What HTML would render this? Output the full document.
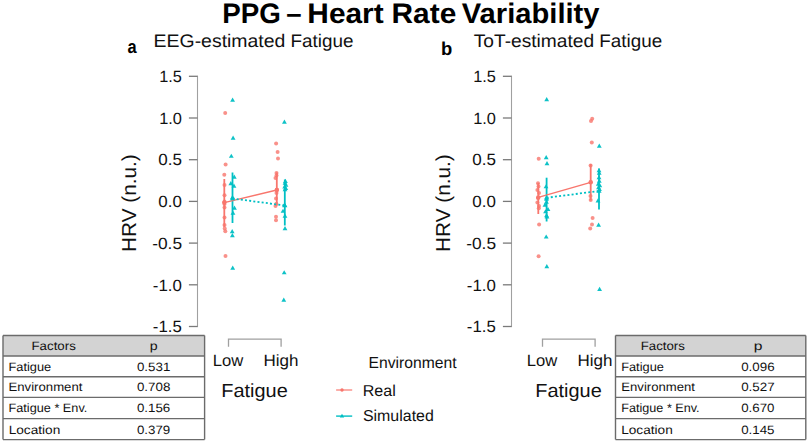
<!DOCTYPE html>
<html><head><meta charset="utf-8"><style>
html,body{margin:0;padding:0;background:#fff;}
body{width:809px;height:442px;overflow:hidden;}
svg{display:block;font-family:"Liberation Sans",sans-serif;text-rendering:geometricPrecision;}
text{fill:#111;}
.title{font-size:28.2px;font-weight:bold;fill:#000;}
.lab{font-size:18.6px;font-weight:bold;fill:#000;}
.sub{font-size:18.2px;}
.tk{font-size:16.2px;}
.xl{font-size:16.4px;}
.xt{font-size:19px;}
.yt{font-size:20.2px;}
.lg{font-size:15.8px;}
.tb{font-size:12.1px;}
</style></head><body>
<svg width="809" height="442" viewBox="0 0 809 442">
<path d="M197.5 75.7V327.1" stroke="#a0a0a0" stroke-width="1.1" fill="none"/>
<path d="M188.9 76.3H197.5" stroke="#7a7a7a" stroke-width="1.3" fill="none"/>
<path d="M188.9 118.0H197.5" stroke="#7a7a7a" stroke-width="1.3" fill="none"/>
<path d="M188.9 159.7H197.5" stroke="#7a7a7a" stroke-width="1.3" fill="none"/>
<path d="M188.9 201.4H197.5" stroke="#7a7a7a" stroke-width="1.3" fill="none"/>
<path d="M188.9 243.1H197.5" stroke="#7a7a7a" stroke-width="1.3" fill="none"/>
<path d="M188.9 284.8H197.5" stroke="#7a7a7a" stroke-width="1.3" fill="none"/>
<path d="M188.9 326.5H197.5" stroke="#7a7a7a" stroke-width="1.3" fill="none"/>
<path d="M228.5 346.7V339.2H281.1V346.7" stroke="#a0a0a0" stroke-width="1.3" fill="none"/>
<path d="M511.5 75.7V327.1" stroke="#a0a0a0" stroke-width="1.1" fill="none"/>
<path d="M502.9 76.3H511.5" stroke="#7a7a7a" stroke-width="1.3" fill="none"/>
<path d="M502.9 118.0H511.5" stroke="#7a7a7a" stroke-width="1.3" fill="none"/>
<path d="M502.9 159.7H511.5" stroke="#7a7a7a" stroke-width="1.3" fill="none"/>
<path d="M502.9 201.4H511.5" stroke="#7a7a7a" stroke-width="1.3" fill="none"/>
<path d="M502.9 243.1H511.5" stroke="#7a7a7a" stroke-width="1.3" fill="none"/>
<path d="M502.9 284.8H511.5" stroke="#7a7a7a" stroke-width="1.3" fill="none"/>
<path d="M502.9 326.5H511.5" stroke="#7a7a7a" stroke-width="1.3" fill="none"/>
<path d="M542.5 346.7V339.2H595.1V346.7" stroke="#a0a0a0" stroke-width="1.3" fill="none"/>
<circle cx="225.2" cy="113.1" r="2.0" fill="#F8766D" fill-opacity="0.8"/>
<circle cx="225.6" cy="164.5" r="2.0" fill="#F8766D" fill-opacity="0.8"/>
<circle cx="224.3" cy="174.8" r="2.0" fill="#F8766D" fill-opacity="0.8"/>
<circle cx="224.5" cy="185" r="2.0" fill="#F8766D" fill-opacity="0.8"/>
<circle cx="224.5" cy="195.3" r="2.0" fill="#F8766D" fill-opacity="0.8"/>
<circle cx="224.5" cy="201.6" r="2.0" fill="#F8766D" fill-opacity="0.8"/>
<circle cx="224.5" cy="204" r="2.0" fill="#F8766D" fill-opacity="0.8"/>
<circle cx="224.5" cy="207.5" r="2.0" fill="#F8766D" fill-opacity="0.8"/>
<circle cx="224.5" cy="217.4" r="2.0" fill="#F8766D" fill-opacity="0.8"/>
<circle cx="224.5" cy="225" r="2.0" fill="#F8766D" fill-opacity="0.8"/>
<circle cx="224.7" cy="228.6" r="2.0" fill="#F8766D" fill-opacity="0.8"/>
<circle cx="225.3" cy="231.3" r="2.0" fill="#F8766D" fill-opacity="0.8"/>
<circle cx="225.5" cy="256" r="2.0" fill="#F8766D" fill-opacity="0.8"/>
<circle cx="276.1" cy="143.5" r="2.0" fill="#F8766D" fill-opacity="0.8"/>
<circle cx="277.6" cy="152" r="2.0" fill="#F8766D" fill-opacity="0.8"/>
<circle cx="278" cy="158.6" r="2.0" fill="#F8766D" fill-opacity="0.8"/>
<circle cx="276.5" cy="173" r="2.0" fill="#F8766D" fill-opacity="0.8"/>
<circle cx="276.5" cy="175.5" r="2.0" fill="#F8766D" fill-opacity="0.8"/>
<circle cx="275.5" cy="178" r="2.0" fill="#F8766D" fill-opacity="0.8"/>
<circle cx="277" cy="189.8" r="2.0" fill="#F8766D" fill-opacity="0.8"/>
<circle cx="276.5" cy="193" r="2.0" fill="#F8766D" fill-opacity="0.8"/>
<circle cx="276" cy="198.5" r="2.0" fill="#F8766D" fill-opacity="0.8"/>
<circle cx="276.3" cy="203.7" r="2.0" fill="#F8766D" fill-opacity="0.8"/>
<circle cx="275.5" cy="206" r="2.0" fill="#F8766D" fill-opacity="0.8"/>
<circle cx="276" cy="216.8" r="2.0" fill="#F8766D" fill-opacity="0.8"/>
<circle cx="276" cy="220.3" r="2.0" fill="#F8766D" fill-opacity="0.8"/>
<path d="M232.60 97.51L235.00 101.66L230.20 101.66Z" fill="#00BFC4" fill-opacity="0.95"/>
<path d="M233.10 135.51L235.50 139.66L230.70 139.66Z" fill="#00BFC4" fill-opacity="0.95"/>
<path d="M231.30 153.71L233.70 157.86L228.90 157.86Z" fill="#00BFC4" fill-opacity="0.95"/>
<path d="M234.30 174.51L236.70 178.66L231.90 178.66Z" fill="#00BFC4" fill-opacity="0.95"/>
<path d="M230.80 181.01L233.20 185.16L228.40 185.16Z" fill="#00BFC4" fill-opacity="0.95"/>
<path d="M234.00 183.51L236.40 187.66L231.60 187.66Z" fill="#00BFC4" fill-opacity="0.95"/>
<path d="M232.50 194.91L234.90 199.06L230.10 199.06Z" fill="#00BFC4" fill-opacity="0.95"/>
<path d="M234.50 205.51L236.90 209.66L232.10 209.66Z" fill="#00BFC4" fill-opacity="0.95"/>
<path d="M233.00 210.51L235.40 214.66L230.60 214.66Z" fill="#00BFC4" fill-opacity="0.95"/>
<path d="M232.20 229.01L234.60 233.16L229.80 233.16Z" fill="#00BFC4" fill-opacity="0.95"/>
<path d="M232.40 233.01L234.80 237.16L230.00 237.16Z" fill="#00BFC4" fill-opacity="0.95"/>
<path d="M232.70 265.61L235.10 269.76L230.30 269.76Z" fill="#00BFC4" fill-opacity="0.95"/>
<path d="M284.40 119.51L286.80 123.66L282.00 123.66Z" fill="#00BFC4" fill-opacity="0.95"/>
<path d="M285.40 178.81L287.80 182.96L283.00 182.96Z" fill="#00BFC4" fill-opacity="0.95"/>
<path d="M285.00 180.71L287.40 184.86L282.60 184.86Z" fill="#00BFC4" fill-opacity="0.95"/>
<path d="M286.00 182.51L288.40 186.66L283.60 186.66Z" fill="#00BFC4" fill-opacity="0.95"/>
<path d="M284.70 184.31L287.10 188.46L282.30 188.46Z" fill="#00BFC4" fill-opacity="0.95"/>
<path d="M285.80 185.91L288.20 190.06L283.40 190.06Z" fill="#00BFC4" fill-opacity="0.95"/>
<path d="M285.00 187.11L287.40 191.26L282.60 191.26Z" fill="#00BFC4" fill-opacity="0.95"/>
<path d="M284.50 202.41L286.90 206.56L282.10 206.56Z" fill="#00BFC4" fill-opacity="0.95"/>
<path d="M283.00 208.71L285.40 212.86L280.60 212.86Z" fill="#00BFC4" fill-opacity="0.95"/>
<path d="M285.00 213.51L287.40 217.66L282.60 217.66Z" fill="#00BFC4" fill-opacity="0.95"/>
<path d="M285.00 226.01L287.40 230.16L282.60 230.16Z" fill="#00BFC4" fill-opacity="0.95"/>
<path d="M284.20 270.21L286.60 274.36L281.80 274.36Z" fill="#00BFC4" fill-opacity="0.95"/>
<path d="M283.80 297.51L286.20 301.66L281.40 301.66Z" fill="#00BFC4" fill-opacity="0.95"/>
<path d="M224.3 179V227" stroke="#F8766D" stroke-width="1.8" fill="none"/>
<path d="M232.5 172.5V223" stroke="#00BFC4" stroke-width="1.8" fill="none"/>
<path d="M276.8 172.5V205.5" stroke="#F8766D" stroke-width="1.8" fill="none"/>
<path d="M284.8 179.5V225.5" stroke="#00BFC4" stroke-width="1.8" fill="none"/>
<path d="M224.3 202.6L276.8 190" stroke="#F8766D" stroke-width="1.4" fill="none"/>
<path d="M232.5 198.5L284.8 205.5" stroke="#00BFC4" stroke-width="1.8" stroke-dasharray="2 2.2" fill="none"/>
<circle cx="224.3" cy="202.6" r="2.2" fill="#F8766D" fill-opacity="1"/>
<path d="M232.50 195.80L235.10 200.30L229.90 200.30Z" fill="#00BFC4" fill-opacity="1"/>
<circle cx="276.8" cy="190" r="2.2" fill="#F8766D" fill-opacity="1"/>
<path d="M284.80 202.80L287.40 207.30L282.20 207.30Z" fill="#00BFC4" fill-opacity="1"/>
<circle cx="538.7" cy="158.7" r="2.0" fill="#F8766D" fill-opacity="0.8"/>
<circle cx="538" cy="183.3" r="2.0" fill="#F8766D" fill-opacity="0.8"/>
<circle cx="538.5" cy="186.5" r="2.0" fill="#F8766D" fill-opacity="0.8"/>
<circle cx="537.4" cy="190.1" r="2.0" fill="#F8766D" fill-opacity="0.8"/>
<circle cx="539" cy="193" r="2.0" fill="#F8766D" fill-opacity="0.8"/>
<circle cx="538" cy="198" r="2.0" fill="#F8766D" fill-opacity="0.8"/>
<circle cx="537.4" cy="202.6" r="2.0" fill="#F8766D" fill-opacity="0.8"/>
<circle cx="539" cy="206" r="2.0" fill="#F8766D" fill-opacity="0.8"/>
<circle cx="538.8" cy="208.3" r="2.0" fill="#F8766D" fill-opacity="0.8"/>
<circle cx="539.1" cy="224.6" r="2.0" fill="#F8766D" fill-opacity="0.8"/>
<circle cx="538.6" cy="256.2" r="2.0" fill="#F8766D" fill-opacity="0.8"/>
<circle cx="592.2" cy="118.8" r="2.0" fill="#F8766D" fill-opacity="0.8"/>
<circle cx="591" cy="121.1" r="2.0" fill="#F8766D" fill-opacity="0.8"/>
<circle cx="591.8" cy="142.6" r="2.0" fill="#F8766D" fill-opacity="0.8"/>
<circle cx="590.6" cy="165.5" r="2.0" fill="#F8766D" fill-opacity="0.8"/>
<circle cx="590.7" cy="182.3" r="2.0" fill="#F8766D" fill-opacity="0.8"/>
<circle cx="590.5" cy="196" r="2.0" fill="#F8766D" fill-opacity="0.8"/>
<circle cx="590.7" cy="200" r="2.0" fill="#F8766D" fill-opacity="0.8"/>
<circle cx="592.6" cy="217.9" r="2.0" fill="#F8766D" fill-opacity="0.8"/>
<circle cx="592" cy="224.6" r="2.0" fill="#F8766D" fill-opacity="0.8"/>
<circle cx="590.2" cy="228.6" r="2.0" fill="#F8766D" fill-opacity="0.8"/>
<path d="M546.70 97.01L549.10 101.16L544.30 101.16Z" fill="#00BFC4" fill-opacity="0.95"/>
<path d="M546.20 155.01L548.60 159.16L543.80 159.16Z" fill="#00BFC4" fill-opacity="0.95"/>
<path d="M547.00 161.01L549.40 165.16L544.60 165.16Z" fill="#00BFC4" fill-opacity="0.95"/>
<path d="M546.00 184.21L548.40 188.36L543.60 188.36Z" fill="#00BFC4" fill-opacity="0.95"/>
<path d="M546.50 196.51L548.90 200.66L544.10 200.66Z" fill="#00BFC4" fill-opacity="0.95"/>
<path d="M546.50 199.51L548.90 203.66L544.10 203.66Z" fill="#00BFC4" fill-opacity="0.95"/>
<path d="M545.00 202.51L547.40 206.66L542.60 206.66Z" fill="#00BFC4" fill-opacity="0.95"/>
<path d="M548.00 206.91L550.40 211.06L545.60 211.06Z" fill="#00BFC4" fill-opacity="0.95"/>
<path d="M545.50 209.21L547.90 213.36L543.10 213.36Z" fill="#00BFC4" fill-opacity="0.95"/>
<path d="M546.50 213.11L548.90 217.26L544.10 217.26Z" fill="#00BFC4" fill-opacity="0.95"/>
<path d="M547.00 214.31L549.40 218.46L544.60 218.46Z" fill="#00BFC4" fill-opacity="0.95"/>
<path d="M546.20 234.41L548.60 238.56L543.80 238.56Z" fill="#00BFC4" fill-opacity="0.95"/>
<path d="M546.80 264.01L549.20 268.16L544.40 268.16Z" fill="#00BFC4" fill-opacity="0.95"/>
<path d="M599.30 143.51L601.70 147.66L596.90 147.66Z" fill="#00BFC4" fill-opacity="0.95"/>
<path d="M599.00 168.01L601.40 172.16L596.60 172.16Z" fill="#00BFC4" fill-opacity="0.95"/>
<path d="M599.20 170.51L601.60 174.66L596.80 174.66Z" fill="#00BFC4" fill-opacity="0.95"/>
<path d="M599.00 175.01L601.40 179.16L596.60 179.16Z" fill="#00BFC4" fill-opacity="0.95"/>
<path d="M599.30 178.51L601.70 182.66L596.90 182.66Z" fill="#00BFC4" fill-opacity="0.95"/>
<path d="M598.30 181.51L600.70 185.66L595.90 185.66Z" fill="#00BFC4" fill-opacity="0.95"/>
<path d="M599.80 183.01L602.20 187.16L597.40 187.16Z" fill="#00BFC4" fill-opacity="0.95"/>
<path d="M598.50 185.01L600.90 189.16L596.10 189.16Z" fill="#00BFC4" fill-opacity="0.95"/>
<path d="M599.50 186.81L601.90 190.96L597.10 190.96Z" fill="#00BFC4" fill-opacity="0.95"/>
<path d="M598.00 198.31L600.40 202.46L595.60 202.46Z" fill="#00BFC4" fill-opacity="0.95"/>
<path d="M598.60 222.51L601.00 226.66L596.20 226.66Z" fill="#00BFC4" fill-opacity="0.95"/>
<path d="M599.60 286.81L602.00 290.96L597.20 290.96Z" fill="#00BFC4" fill-opacity="0.95"/>
<path d="M538.3 183V214" stroke="#F8766D" stroke-width="1.8" fill="none"/>
<path d="M546.6 177.7V221.5" stroke="#00BFC4" stroke-width="1.8" fill="none"/>
<path d="M590.7 164.1V200.4" stroke="#F8766D" stroke-width="1.8" fill="none"/>
<path d="M599 168.5V209.5" stroke="#00BFC4" stroke-width="1.8" fill="none"/>
<path d="M538.3 197.4L590.7 182.3" stroke="#F8766D" stroke-width="1.4" fill="none"/>
<path d="M546.6 197.8L599 191" stroke="#00BFC4" stroke-width="1.8" stroke-dasharray="2 2.2" fill="none"/>
<circle cx="538.3" cy="197.4" r="2.2" fill="#F8766D" fill-opacity="1"/>
<path d="M546.60 195.10L549.20 199.60L544.00 199.60Z" fill="#00BFC4" fill-opacity="1"/>
<circle cx="590.7" cy="182.3" r="2.2" fill="#F8766D" fill-opacity="1"/>
<path d="M599.00 188.30L601.60 192.80L596.40 192.80Z" fill="#00BFC4" fill-opacity="1"/>
<path d="M336.1 390H352.2" stroke="#F8766D" stroke-width="1.3" stroke-opacity="0.9"/>
<circle cx="342" cy="390" r="1.7" fill="#F8766D" fill-opacity="1"/>
<path d="M336.1 416.1H352.2" stroke="#00BFC4" stroke-width="1.4"/>
<path d="M342.00 413.81L344.20 417.62L339.80 417.62Z" fill="#00BFC4" fill-opacity="1"/>
<rect x="3" y="335.5" width="201.6" height="20.5" fill="#d3d3d3"/>
<path d="M3 335.5H204.6" stroke="#6b6b6b" stroke-width="1.4"/>
<path d="M3 356H204.6" stroke="#6b6b6b" stroke-width="1.4"/>
<path d="M3 376.7H204.6" stroke="#6b6b6b" stroke-width="1.4"/>
<path d="M3 397.4H204.6" stroke="#6b6b6b" stroke-width="1.4"/>
<path d="M3 418.6H204.6" stroke="#6b6b6b" stroke-width="1.4"/>
<path d="M3 439.6H204.6" stroke="#6b6b6b" stroke-width="1.4"/>
<path d="M3 335.5V439.6M204.6 335.5V439.6" stroke="#6b6b6b" stroke-width="1.4"/>
<rect x="615.5" y="335.5" width="190.29999999999995" height="20.5" fill="#d3d3d3"/>
<path d="M615.5 335.5H805.8" stroke="#6b6b6b" stroke-width="1.4"/>
<path d="M615.5 356H805.8" stroke="#6b6b6b" stroke-width="1.4"/>
<path d="M615.5 376.7H805.8" stroke="#6b6b6b" stroke-width="1.4"/>
<path d="M615.5 397.4H805.8" stroke="#6b6b6b" stroke-width="1.4"/>
<path d="M615.5 418.6H805.8" stroke="#6b6b6b" stroke-width="1.4"/>
<path d="M615.5 439.6H805.8" stroke="#6b6b6b" stroke-width="1.4"/>
<path d="M615.5 335.5V439.6M805.8 335.5V439.6" stroke="#6b6b6b" stroke-width="1.4"/>
<text id="title0" class="title" textLength="58.64" lengthAdjust="spacingAndGlyphs" x="222.32" y="23.00">PPG</text>
<text id="title1" class="title" textLength="15.31" lengthAdjust="spacingAndGlyphs" x="286.15" y="23.00">–</text>
<text id="title2" class="title" textLength="76.32" lengthAdjust="spacingAndGlyphs" x="307.36" y="23.00">Heart</text>
<text id="title3" class="title" textLength="64.72" lengthAdjust="spacingAndGlyphs" x="391.57" y="23.00">Rate</text>
<text id="title4" class="title" textLength="137.79" lengthAdjust="spacingAndGlyphs" x="461.76" y="23.00">Variability</text>
<text id="la" class="lab" textLength="9.11" lengthAdjust="spacingAndGlyphs" x="127.50" y="53.00">a</text>
<text id="sub1a" class="sub" textLength="131.83" lengthAdjust="spacingAndGlyphs" x="153.58" y="47.00">EEG-estimated</text>
<text id="sub1b" class="sub" textLength="62.97" lengthAdjust="spacingAndGlyphs" x="290.45" y="47.00">Fatigue</text>
<text id="lb" class="lab" textLength="11.26" lengthAdjust="spacingAndGlyphs" x="441.00" y="55.00">b</text>
<text id="sub2a" class="sub" textLength="120.34" lengthAdjust="spacingAndGlyphs" x="473.75" y="47.00">ToT-estimated</text>
<text id="sub2b" class="sub" textLength="62.88" lengthAdjust="spacingAndGlyphs" x="599.32" y="47.00">Fatigue</text>
<text id="Lt1.5" class="tk" textLength="22.65" lengthAdjust="spacingAndGlyphs" x="159.23" y="82.00">1.5</text>
<text id="Lt1.0" class="tk" textLength="22.75" lengthAdjust="spacingAndGlyphs" x="159.22" y="124.00">1.0</text>
<text id="Lt0.5" class="tk" textLength="23.66" lengthAdjust="spacingAndGlyphs" x="158.35" y="165.00">0.5</text>
<text id="Lt0.0" class="tk" textLength="23.55" lengthAdjust="spacingAndGlyphs" x="158.35" y="207.00">0.0</text>
<text id="Lt-0.5" class="tk" textLength="29.86" lengthAdjust="spacingAndGlyphs" x="152.23" y="249.00">-0.5</text>
<text id="Lt-1.0" class="tk" textLength="29.05" lengthAdjust="spacingAndGlyphs" x="152.89" y="291.00">-1.0</text>
<text id="Lt-1.5" class="tk" textLength="28.89" lengthAdjust="spacingAndGlyphs" x="152.89" y="332.00">-1.5</text>
<text id="Llow" class="xl" textLength="30.47" lengthAdjust="spacingAndGlyphs" x="212.66" y="366.00">Low</text>
<text id="Lhigh" class="xl" textLength="34.99" lengthAdjust="spacingAndGlyphs" x="263.49" y="366.00">High</text>
<text id="Lfat" class="xt" textLength="66.49" lengthAdjust="spacingAndGlyphs" x="221.27" y="397.00">Fatigue</text>
<text id="Lhrv" class="yt" textLength="97.77" lengthAdjust="spacingAndGlyphs" transform="translate(136.40 251.98) rotate(-90)">HRV (n.u.)</text>
<text id="Rt1.5" class="tk" textLength="22.65" lengthAdjust="spacingAndGlyphs" x="473.23" y="82.00">1.5</text>
<text id="Rt1.0" class="tk" textLength="22.75" lengthAdjust="spacingAndGlyphs" x="473.22" y="124.00">1.0</text>
<text id="Rt0.5" class="tk" textLength="23.66" lengthAdjust="spacingAndGlyphs" x="472.35" y="165.00">0.5</text>
<text id="Rt0.0" class="tk" textLength="23.55" lengthAdjust="spacingAndGlyphs" x="472.35" y="207.00">0.0</text>
<text id="Rt-0.5" class="tk" textLength="29.86" lengthAdjust="spacingAndGlyphs" x="466.23" y="249.00">-0.5</text>
<text id="Rt-1.0" class="tk" textLength="29.05" lengthAdjust="spacingAndGlyphs" x="466.89" y="291.00">-1.0</text>
<text id="Rt-1.5" class="tk" textLength="28.89" lengthAdjust="spacingAndGlyphs" x="466.89" y="332.00">-1.5</text>
<text id="Rlow" class="xl" textLength="30.47" lengthAdjust="spacingAndGlyphs" x="526.66" y="366.00">Low</text>
<text id="Rhigh" class="xl" textLength="34.99" lengthAdjust="spacingAndGlyphs" x="577.49" y="366.00">High</text>
<text id="Rfat" class="xt" textLength="66.49" lengthAdjust="spacingAndGlyphs" x="535.27" y="397.00">Fatigue</text>
<text id="Rhrv" class="yt" textLength="97.77" lengthAdjust="spacingAndGlyphs" transform="translate(450.40 251.98) rotate(-90)">HRV (n.u.)</text>
<text id="env" class="lg" style="font-size:16.0px" textLength="87.94" lengthAdjust="spacingAndGlyphs" x="368.60" y="368.00">Environment</text>
<text id="real" class="lg" textLength="33.02" lengthAdjust="spacingAndGlyphs" x="362.69" y="396.00">Real</text>
<text id="sim" class="lg" textLength="70.85" lengthAdjust="spacingAndGlyphs" x="362.94" y="421.00">Simulated</text>
<text id="TLhf" class="tb" textLength="44.29" lengthAdjust="spacingAndGlyphs" x="31.50" y="350.00">Factors</text>
<text id="TLhp" class="tb" textLength="7.90" lengthAdjust="spacingAndGlyphs" x="149.66" y="350.00">p</text>
<text id="TLr0a" class="tb" textLength="42.75" lengthAdjust="spacingAndGlyphs" x="8.48" y="371.00">Fatigue</text>
<text id="TLr0b" class="tb" textLength="33.41" lengthAdjust="spacingAndGlyphs" x="136.94" y="371.00">0.531</text>
<text id="TLr1a" class="tb" textLength="73.88" lengthAdjust="spacingAndGlyphs" x="8.53" y="391.00">Environment</text>
<text id="TLr1b" class="tb" textLength="33.40" lengthAdjust="spacingAndGlyphs" x="136.91" y="391.00">0.708</text>
<text id="TLr2a" class="tb" textLength="78.85" lengthAdjust="spacingAndGlyphs" x="8.49" y="412.00">Fatigue * Env.</text>
<text id="TLr2b" class="tb" textLength="33.30" lengthAdjust="spacingAndGlyphs" x="136.91" y="412.00">0.156</text>
<text id="TLr3a" class="tb" textLength="51.63" lengthAdjust="spacingAndGlyphs" x="8.67" y="434.00">Location</text>
<text id="TLr3b" class="tb" textLength="33.25" lengthAdjust="spacingAndGlyphs" x="136.94" y="434.00">0.379</text>
<text id="TRhf" class="tb" textLength="44.13" lengthAdjust="spacingAndGlyphs" x="640.70" y="350.00">Factors</text>
<text id="TRhp" class="tb" textLength="8.72" lengthAdjust="spacingAndGlyphs" x="753.75" y="350.00">p</text>
<text id="TRr0a" class="tb" textLength="42.71" lengthAdjust="spacingAndGlyphs" x="621.18" y="371.00">Fatigue</text>
<text id="TRr0b" class="tb" textLength="33.40" lengthAdjust="spacingAndGlyphs" x="741.17" y="371.00">0.096</text>
<text id="TRr1a" class="tb" textLength="73.77" lengthAdjust="spacingAndGlyphs" x="621.25" y="391.00">Environment</text>
<text id="TRr1b" class="tb" textLength="33.46" lengthAdjust="spacingAndGlyphs" x="741.17" y="391.00">0.527</text>
<text id="TRr2a" class="tb" textLength="78.37" lengthAdjust="spacingAndGlyphs" x="621.28" y="412.00">Fatigue * Env.</text>
<text id="TRr2b" class="tb" textLength="33.28" lengthAdjust="spacingAndGlyphs" x="741.17" y="412.00">0.670</text>
<text id="TRr3a" class="tb" textLength="51.53" lengthAdjust="spacingAndGlyphs" x="621.21" y="434.00">Location</text>
<text id="TRr3b" class="tb" textLength="33.32" lengthAdjust="spacingAndGlyphs" x="741.17" y="434.00">0.145</text>
</svg>
</body></html>
